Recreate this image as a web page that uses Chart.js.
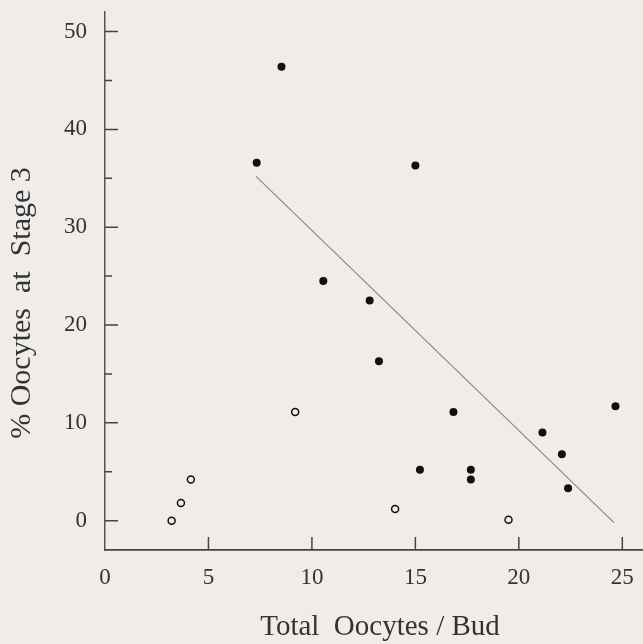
<!DOCTYPE html>
<html>
<head>
<meta charset="utf-8">
<script src="https://cdn.jsdelivr.net/npm/chart.js@4.4.1/dist/chart.umd.min.js"></script>
<style>
	html, body { margin: 0; padding: 0; background: #efece9; }
	#wrap { width: 643px; height: 644px; }
</style>
</head>
<body>
<div id="wrap"><canvas id="myChart"></canvas></div>
<script>
// buds with stage 3 oocytes (filled dots)
const filledX = [7.33, 8.53, 15.0, 10.55, 12.79, 13.24, 16.84, 24.67, 21.14, 22.08, 15.22, 17.68, 17.68, 22.38];
const filledY = [36.6, 46.4, 36.3, 24.5, 22.5, 16.3, 11.1, 11.7, 9.0, 6.8, 5.2, 5.2, 4.2, 3.3];
// other buds (open circles)
const openX = [3.22, 3.67, 4.15, 9.19, 14.02, 19.5];
const openY = [0.0, 1.8, 4.2, 11.1, 1.2, 0.1];
// regression line end points
const fitX = [7.3, 24.6];
const fitY = [35.2, -0.2];

const xTicks = [0, 5, 10, 15, 20, 25];
const yTicks = [0, 10, 20, 30, 40, 50];
const yMinorTicks = [5, 15, 25, 35, 45];

const xTitle = 'Total  Oocytes / Bud';
const yTitle = '% Oocytes  at  Stage 3';

const font = 'Liberation Serif';
const ink = '#333';

function toPoints(xs, ys){
	return xs.map((x, i) => ({x: x, y: ys[i]}));
}

// inward tick marks and axis titles
const axisDecor = {
	id: 'axisDecor',
	afterDraw(chart){
		const ctx = chart.ctx,
			area = chart.chartArea,
			xs = chart.scales.x,
			ys = chart.scales.y;
		ctx.save();
		ctx.strokeStyle = '#444';
		ctx.lineWidth = 1.5;
		ctx.beginPath();
		yTicks.forEach(v => {
			const p = ys.getPixelForValue(v);
			ctx.moveTo(area.left, p);
			ctx.lineTo(area.left + 13, p);
		});
		yMinorTicks.forEach(v => {
			const p = ys.getPixelForValue(v);
			ctx.moveTo(area.left, p);
			ctx.lineTo(area.left + 7, p);
		});
		xTicks.slice(1).forEach(v => {
			const p = xs.getPixelForValue(v);
			ctx.moveTo(p, area.bottom);
			ctx.lineTo(p, area.bottom - 13);
		});
		ctx.stroke();

		ctx.fillStyle = ink;
		ctx.textAlign = 'center';
		ctx.textBaseline = 'middle';
		ctx.font = '29px "' + font + '"';
		ctx.fillText(xTitle, 380, 627);
		ctx.font = '30px "' + font + '"';
		ctx.translate(22, 303);
		ctx.rotate(-Math.PI / 2);
		ctx.fillText(yTitle, 0, 0);
		ctx.restore();
	}
};

const ctx = document.getElementById('myChart');
const myChart = new Chart(ctx, {
	type: 'scatter',
	data: {
		datasets: [
			{
				data: toPoints(filledX, filledY),
				pointRadius: 4,
				backgroundColor: '#111',
				borderColor: '#111',
				borderWidth: 0
			},{
				data: toPoints(openX, openY),
				pointRadius: 3.5,
				backgroundColor: 'rgba(0,0,0,0)',
				borderColor: '#111',
				borderWidth: 1.5
			},{
				data: toPoints(fitX, fitY),
				showLine: true,
				pointRadius: 0,
				borderColor: '#888',
				borderWidth: 1.2
			}
		]
	},
	options: {
		responsive: true,
		maintainAspectRatio: false,
		animation: false,
		layout: {
			autoPadding: false,
			padding: { top: 12, left: 0, right: 0, bottom: 0 }
		},
		plugins: {
			legend: { display: false },
			tooltip: { enabled: false }
		},
		scales: {
			x: {
				type: 'linear',
				min: 0,
				max: 26,
				afterBuildTicks: s => { s.ticks = xTicks.map(v => ({value: v})); },
				afterFit: s => {
					s.height = 94;
					s.paddingLeft = 0;
					s.paddingRight = 0;
				},
				grid: { display: false },
				border: { display: true, color: '#444', width: 1.8 },
				ticks: {
					padding: 6,
					color: ink,
					font: { family: font, size: 23 },
					maxRotation: 0
				}
			},
			y: {
				type: 'linear',
				min: -3,
				max: 52,
				afterBuildTicks: s => { s.ticks = yTicks.map(v => ({value: v})); },
				afterFit: s => {
					s.width = 105;
					s.paddingTop = 0;
					s.paddingBottom = 0;
				},
				grid: { display: false },
				border: { display: true, color: '#555', width: 1.5 },
				ticks: {
					padding: 10,
					color: ink,
					font: { family: font, size: 23 }
				}
			}
		}
	},
	plugins: [axisDecor]
});
</script>
</body>
</html>
